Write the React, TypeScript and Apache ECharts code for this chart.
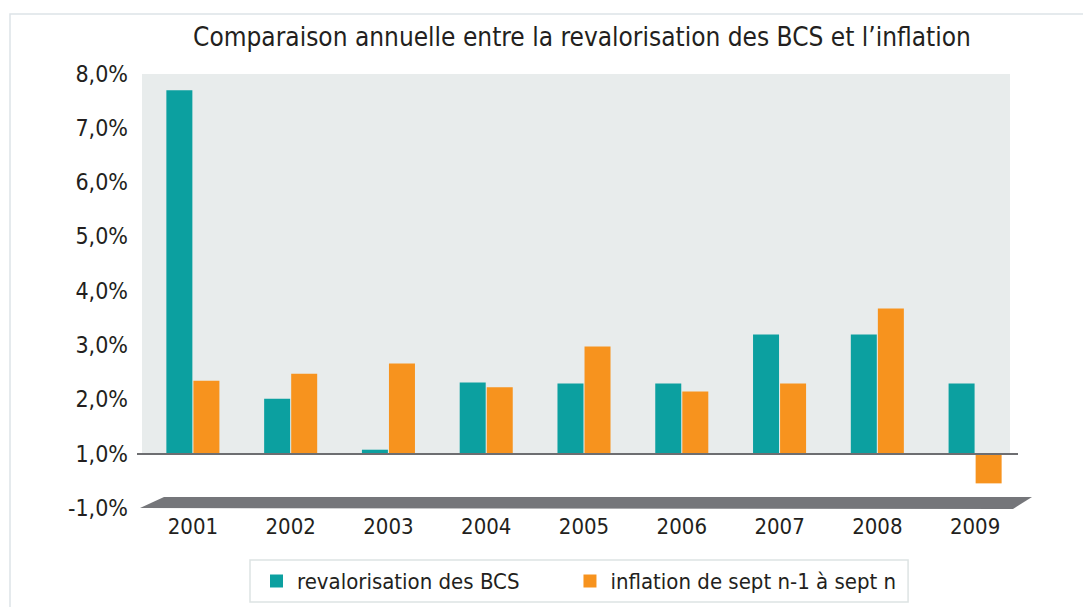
import React, { useEffect, useRef } from "react";
import * as echarts from "echarts";

const TITLE = "Comparaison annuelle entre la revalorisation des BCS et l’inflation";
const years = ["2001", "2002", "2003", "2004", "2005", "2006", "2007", "2008", "2009"];
const seriesNames = ["revalorisation des BCS", "inflation de sept n-1 à sept n"];
const revalorisation = [6.69, 1.01, 0.07, 1.31, 1.29, 1.29, 2.19, 2.19, 1.29];
const inflation = [1.34, 1.47, 1.66, 1.22, 1.97, 1.14, 1.29, 2.67, -0.55];
// tick labels as printed on the original, indexed by axis value + 1 (value -1 .. 7)
const yTickLabels = ["-1,0%", "1,0%", "2,0%", "3,0%", "4,0%", "5,0%", "6,0%", "7,0%", "8,0%"];

const FONT = "'Liberation Sans Narrow', 'DejaVu Sans Condensed', 'Roboto', sans-serif";
const TEAL = "#0ca0a0";
const ORANGE = "#f7931e";
const TEXT = "#231f20";

export default function App() {
  const ref = useRef<HTMLDivElement>(null);
  useEffect(() => {
    if (!ref.current) return;
    const chart = echarts.init(ref.current, null, { renderer: "svg" });
    chart.setOption({
      animation: false,
      backgroundColor: "#ffffff",
      textStyle: { fontFamily: FONT },
      title: {
        text: TITLE,
        left: 577,
        textAlign: "center",
        top: 19,
        textStyle: { fontFamily: FONT, fontSize: 26, fontWeight: "normal", color: TEXT },
      },
      graphic: [
        {
          type: "rect",
          z: -10,
          silent: true,
          shape: { x: 10, y: 14, width: 1200, height: 700 },
          style: { fill: "none", stroke: "#dde3e8", lineWidth: 1.5 },
        },
        {
          type: "rect",
          z: -5,
          silent: true,
          shape: { x: 142, y: 74, width: 868, height: 380 },
          style: { fill: "#e8ecec" },
        },
        {
          type: "polygon",
          z: -5,
          silent: true,
          shape: { points: [[140, 508], [164, 497], [1032, 497], [1013, 509]] },
          style: { fill: "#75767a" },
        },
      ],
      legend: {
        data: seriesNames,
        left: 250,
        top: 560,
        padding: [10, 12, 10, 20],
        itemGap: 64,
        itemWidth: 13,
        itemHeight: 13,
        icon: "rect",
        borderColor: "#dde3e3",
        borderWidth: 1.5,
        textStyle: { fontFamily: FONT, fontSize: 22, color: TEXT, padding: [0, 0, 0, 9] },
      },
      grid: { left: 144, width: 880, top: 73.5, height: 434.3 },
      xAxis: {
        type: "category",
        data: years,
        axisLine: { show: false, onZero: false },
        axisTick: { show: false },
        axisLabel: { fontFamily: FONT, fontSize: 22, color: TEXT, margin: 8 },
      },
      yAxis: {
        type: "value",
        min: -1,
        max: 7,
        interval: 1,
        splitLine: { show: false },
        axisLine: { show: false },
        axisTick: { show: false },
        axisLabel: {
          fontFamily: FONT,
          fontSize: 23,
          color: TEXT,
          margin: 16,
          formatter: (v: number) => yTickLabels[Math.round(v) + 1],
        },
      },
      series: [
        {
          name: seriesNames[0],
          type: "bar",
          data: revalorisation,
          barWidth: 26,
          barGap: "4%",
          itemStyle: { color: TEAL },
          markLine: {
            silent: true,
            symbol: "none",
            label: { show: false },
            lineStyle: { color: "#6d6e71", width: 2, type: "solid" },
            data: [[{ x: 137, yAxis: 0 }, { x: 1018, yAxis: 0 }]],
          },
        },
        {
          name: seriesNames[1],
          type: "bar",
          data: inflation,
          barWidth: 26,
          itemStyle: { color: ORANGE },
        },
      ],
    });
    return () => chart.dispose();
  }, []);
  return <div ref={ref} style={{ width: 1083, height: 607, position: "absolute", left: 0, top: 0 }} />;
}
